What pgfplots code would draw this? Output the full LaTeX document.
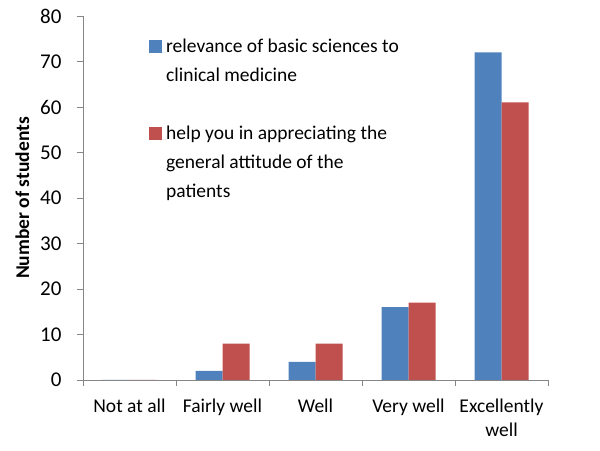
\documentclass[border=0pt]{standalone}
\usepackage{fontspec}
\setmainfont{Carlito}
\usepackage{pgfplots}
\pgfplotsset{compat=1.18}
\definecolor{barblue}{HTML}{4F81BD}
\definecolor{barred}{HTML}{C0504D}
\definecolor{axgray}{HTML}{868686}
\newcommand\f{\fontsize{19.5bp}{29bp}\selectfont}
\newcommand\legcell[1]{\begin{tabular}[t]{@{}l@{}}#1\end{tabular}}

\begin{document}
\begin{tikzpicture}
\begin{axis}[
    name=ax,
    scale only axis,
    width=465bp, height=364bp,
    ybar=0pt, bar width=27bp,
    xmin=-0.5, xmax=4.5,
    ymin=0, ymax=80,
    ytick={0,10,...,80},
    xtick={0,...,4},
    xticklabels={Not at all, Fairly well, Well, Very well, Excellently\\well},
    minor xtick={-0.5,0.5,...,4.5},
    major x tick style={draw=none},
    tick align=outside,
    tick style={axgray, line width=0.8bp},
    minor tick length=6bp, major tick length=6bp,
    axis x line*=bottom, axis y line*=left,
    axis line style={axgray, line width=0.8bp, -},
    /pgf/number format/assume math mode=true,
    ticklabel style={font=\f},
    yticklabel style={xshift=-12bp, font=\fontsize{21bp}{29bp}\selectfont},
    xticklabel style={align=center, font=\fontsize{19.5bp}{24bp}\selectfont, yshift=-9bp},
    ylabel={\bfseries Number of students},
    ylabel style={font=\f, yshift=4bp},
    legend style={draw=none, fill=none, font=\f, at={(axis cs:-0.5,80)}, anchor=north west,
        xshift=63bp, yshift=-14bp, row sep=65bp,
        nodes={inner sep=0pt, anchor=base west}},
    legend cell align=left,
    legend image code/.code={\fill[#1, draw=none] (0bp,-1bp) rectangle (13bp,12bp);
        \path (0bp,0bp) -- (17bp,0bp);},
]
\addplot[fill=barblue, draw=none] coordinates {(0,0) (1,2) (2,4) (3,16) (4,72)};
\addplot[fill=barred, draw=none] coordinates {(0,0) (1,8) (2,8) (3,17) (4,61)};
\legend{\legcell{relevance of basic sciences to\\clinical medicine}, \legcell{help you in appreciating the\\general attitude of the\\patients}}
\end{axis}
\path[use as bounding box] ([shift={(-83bp,-71bp)}]ax.south west) rectangle ([shift={(52bp,16bp)}]ax.north east);
\end{tikzpicture}
\end{document}
